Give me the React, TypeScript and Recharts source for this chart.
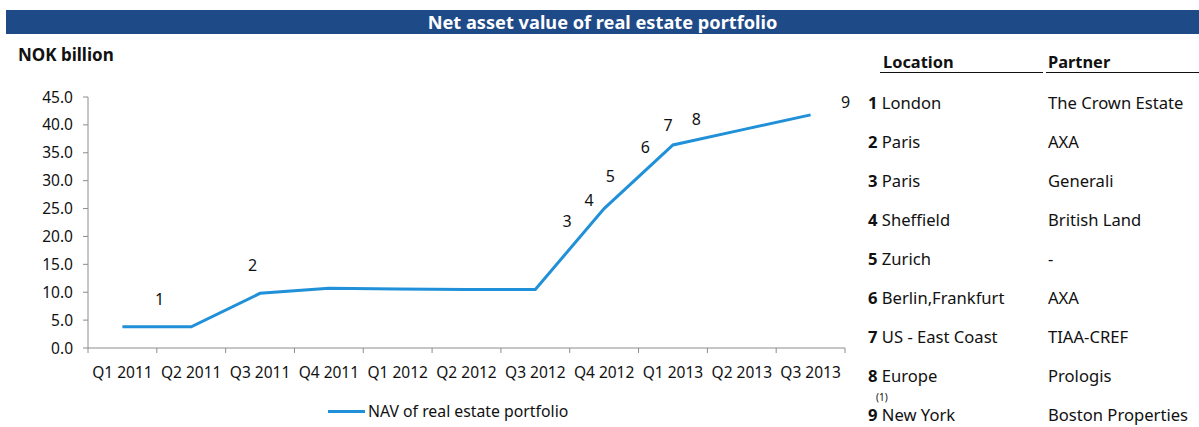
import {
  CartesianGrid,
  Legend,
  Line,
  LineChart,
  ReferenceDot,
  XAxis,
  YAxis,
} from "recharts";

const quarters = [
  "Q1 2011",
  "Q2 2011",
  "Q3 2011",
  "Q4 2011",
  "Q1 2012",
  "Q2 2012",
  "Q3 2012",
  "Q4 2012",
  "Q1 2013",
  "Q2 2013",
  "Q3 2013",
];
const nav = [3.8, 3.8, 9.8, 10.7, 10.6, 10.5, 10.5, 25.0, 36.4, 39.1, 41.8];
const yTicks = [0, 5, 10, 15, 20, 25, 30, 35, 40, 45];

// numbered deal markers, placed in data space (x = quarter index)
const markerLabels = ["1", "2", "3", "4", "5", "6", "7", "8", "9"];
const markerX = [0.54, 1.89, 6.46, 6.78, 7.09, 7.6, 7.93, 8.34, 10.51];
const markerY = [8.8, 14.9, 22.8, 26.5, 30.7, 35.9, 39.9, 41.0, 44.1];

const locations = [
  "London",
  "Paris",
  "Paris",
  "Sheffield",
  "Zurich",
  "Berlin,Frankfurt",
  "US - East Coast",
  "Europe",
  "New York",
];
const partners = [
  "The Crown Estate",
  "AXA",
  "Generali",
  "British Land",
  "-",
  "AXA",
  "TIAA-CREF",
  "Prologis",
  "Boston Properties",
];

const data = quarters.map((q, i) => ({ idx: i, quarter: q, nav: nav[i] }));

const FONT = "'Noto Sans', 'Open Sans', sans-serif";
const LINE_COLOR = "#2090D8";
const AXIS_COLOR = "#8C8C8C";
const BAR_COLOR = "#1F4A88";

const CHART_W = 870;
const CHART_H = 427;
const MARGIN = { top: 97, right: 25, left: 0, bottom: 4 };
const Y_W = 88;
const BAND = (CHART_W - MARGIN.left - MARGIN.right - Y_W) / quarters.length;

const QuarterTick = (props: any) => {
  const { x, y, payload } = props;
  const i = payload.value as number;
  return (
    <g>
      <line x1={x - BAND / 2} y1={y} x2={x - BAND / 2} y2={y + 5} stroke={AXIS_COLOR} />
      {i === quarters.length - 1 && (
        <line x1={x + BAND / 2} y1={y} x2={x + BAND / 2} y2={y + 5} stroke={AXIS_COLOR} />
      )}
      <text x={x} y={y + 30} textAnchor="middle" fill="#111" fontSize={15.5} fontFamily={FONT}>
        {quarters[i]}
      </text>
    </g>
  );
};

const LegendContent = () => (
  <div
    style={{
      height: 24,
      display: "flex",
      alignItems: "center",
      paddingLeft: 328,
      fontFamily: FONT,
      fontSize: 15.8,
      color: "#111",
    }}
  >
    <span style={{ width: 37, height: 3, background: LINE_COLOR, display: "inline-block", marginRight: 3 }} />
    NAV of real estate portfolio
  </div>
);

const cell = {
  position: "absolute" as const,
  height: 24,
  lineHeight: "24px",
  fontSize: 16.6,
  whiteSpace: "nowrap" as const,
};

export default function App() {
  return (
    <div
      style={{
        position: "absolute",
        left: 0,
        top: 0,
        width: 1199,
        height: 427,
        background: "#fff",
        overflow: "hidden",
        fontFamily: FONT,
        color: "#111",
      }}
    >
      <div
        style={{
          position: "absolute",
          left: 6,
          top: 10,
          width: 1193,
          height: 24,
          background: BAR_COLOR,
          color: "#fff",
          fontWeight: 700,
          fontSize: 18.2,
          lineHeight: "24px",
          textAlign: "center",
        }}
      >
        Net asset value of real estate portfolio
      </div>
      <div style={{ position: "absolute", left: 18, top: 43, fontWeight: 700, fontSize: 17 }}>
        NOK billion
      </div>

      <div style={{ position: "absolute", left: 0, top: 0 }}>
        <LineChart width={CHART_W} height={CHART_H} data={data} margin={MARGIN}>
          <CartesianGrid stroke="none" />
          <XAxis
            dataKey="idx"
            type="number"
            domain={[-0.5, quarters.length - 0.5]}
            ticks={quarters.map((_, i) => i)}
            interval={0}
            height={51}
            tickSize={0}
            tickMargin={0}
            tickLine={false}
            axisLine={{ stroke: AXIS_COLOR }}
            tick={<QuarterTick />}
          />
          <YAxis
            width={Y_W}
            domain={[0, 45]}
            ticks={yTicks}
            interval={0}
            tickSize={5}
            tickMargin={10}
            tickFormatter={(v: number) => v.toFixed(1)}
            axisLine={{ stroke: AXIS_COLOR }}
            tickLine={{ stroke: AXIS_COLOR }}
            tick={{ fill: "#111", fontSize: 15.5, fontFamily: FONT }}
          />
          <Legend verticalAlign="bottom" wrapperStyle={{ left: 0, width: CHART_W }} content={<LegendContent />} />
          <Line
            type="linear"
            dataKey="nav"
            name="NAV of real estate portfolio"
            stroke={LINE_COLOR}
            strokeWidth={3}
            dot={false}
            activeDot={false}
            isAnimationActive={false}
          />
          {markerLabels.map((m, i) => (
            <ReferenceDot
              key={m}
              x={markerX[i]}
              y={markerY[i]}
              r={0}
              fill="none"
              stroke="none"
              ifOverflow="visible"
              label={{ value: m, position: "center", fill: "#111", fontSize: 16, fontFamily: FONT }}
            />
          ))}
        </LineChart>
      </div>

      <div style={{ position: "absolute", left: 880, top: 51, width: 160, borderBottom: "1.5px solid #111", fontWeight: 700, fontSize: 16.4, lineHeight: "21px", paddingLeft: 3 }}>
        Location
      </div>
      <div style={{ position: "absolute", left: 1046, top: 51, width: 153, borderBottom: "1.5px solid #111", fontWeight: 700, fontSize: 16.4, lineHeight: "21px", paddingLeft: 2 }}>
        Partner
      </div>
      {locations.map((loc, i) => (
        <div key={i} style={{ ...cell, left: 868, top: 91 + i * 39 }}>
          <b>{i + 1}</b> {loc}
        </div>
      ))}
      <div style={{ position: "absolute", left: 876, top: 392, fontSize: 10, lineHeight: "10px" }}>(1)</div>
      {partners.map((p, i) => (
        <div key={i} style={{ ...cell, left: 1048, top: 91 + i * 39 }}>
          {p}
        </div>
      ))}
    </div>
  );
}
